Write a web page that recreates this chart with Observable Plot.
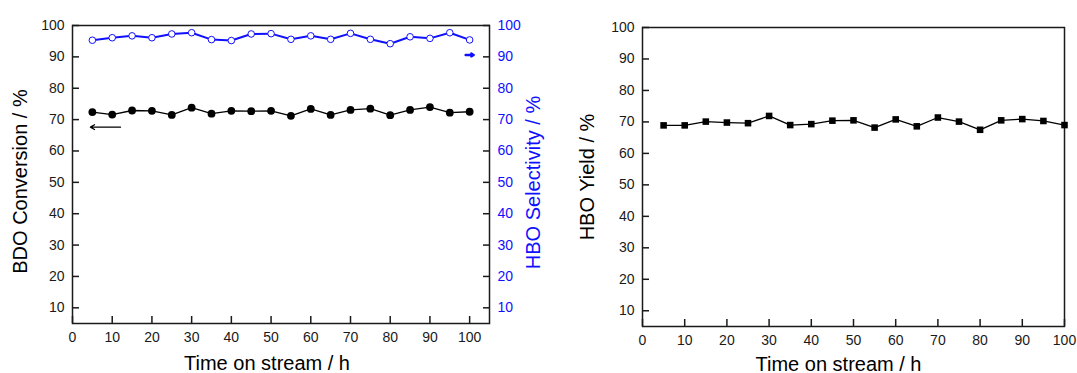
<!DOCTYPE html>
<html><head><meta charset="utf-8">
<script src="https://cdn.jsdelivr.net/npm/d3@7"></script>
<script src="https://cdn.jsdelivr.net/npm/@observablehq/plot@0.6"></script>
<style>
body{margin:0;background:#fff;}
#wrap{position:relative;width:1077px;height:373px;background:#fff;}
#left,#right{position:absolute;top:0;}
#left{left:0}
#right{left:550px}
</style></head><body><div id="wrap"><div id="left"></div><div id="right"></div></div>
<script>
// ---- data ----
const hours = [5,10,15,20,25,30,35,40,45,50,55,60,65,70,75,80,85,90,95,100];
const bdoConversion = [72.4,71.6,72.9,72.8,71.5,73.8,71.9,72.8,72.7,72.8,71.2,73.4,71.5,73.1,73.5,71.4,73.1,74.0,72.2,72.5];
const hboSelectivity = [95.3,96.1,96.7,96.1,97.3,97.7,95.5,95.2,97.3,97.4,95.6,96.7,95.6,97.5,95.6,94.2,96.4,95.9,97.7,95.4];
const hboYield = [68.9,68.9,70.1,69.8,69.6,71.9,69.0,69.3,70.4,70.5,68.2,70.8,68.6,71.4,70.1,67.5,70.5,70.9,70.3,69.0];
const yTicks = [10,20,30,40,50,60,70,80,90,100];
const xTicks = [0,10,20,30,40,50,60,70,80,90,100];
const xLabel = "Time on stream / h";
const leftYLabel = "BDO Conversion / %";
const rightYLabel = "HBO Selectivity / %";
const yieldLabel = "HBO Yield / %";
// axis-pointer arrows (data units)
const convArrow = [{x1: 12.1, y1: 67.6, x2: 4.5, y2: 67.6}];
const selArrow = [{x1: 99.0, y1: 90.6, x2: 101.0, y2: 90.6}];

const FONT = '"Liberation Sans", Arial, Helvetica, sans-serif';
const INK = "#1a1a1a";
const BLUE = "#1010ff";

const leftData = hours.map((h, i) => ({h, conv: bdoConversion[i], sel: hboSelectivity[i]}));
const rightData = hours.map((h, i) => ({h, yld: hboYield[i]}));

const left = Plot.plot({
  width: 550, height: 373,
  marginLeft: 72, marginRight: 61, marginTop: 25, marginBottom: 50,
  style: {fontFamily: FONT, fontSize: "14px", background: "transparent", overflow: "visible", color: INK},
  x: {domain: [0, 105]},
  y: {domain: [5, 100]},
  marks: [
    Plot.frame({stroke: INK, strokeWidth: 1.5}),
    Plot.line(leftData, {x: "h", y: "conv", stroke: "black", strokeWidth: 1.3}),
    Plot.dot(leftData, {x: "h", y: "conv", r: 3.9, fill: "black", stroke: "none"}),
    Plot.line(leftData, {x: "h", y: "sel", stroke: BLUE, strokeWidth: 2}),
    Plot.dot(leftData, {x: "h", y: "sel", r: 3.3, fill: "white", stroke: BLUE, strokeWidth: 1}),
    Plot.arrow(convArrow, {x1: "x1", y1: "y1", x2: "x2", y2: "y2", stroke: "black", strokeWidth: 1.2, headLength: 6}),
    Plot.arrow(selArrow, {x1: "x1", y1: "y1", x2: "x2", y2: "y2", stroke: BLUE, strokeWidth: 2.5, headLength: 5}),
    Plot.axisX(xTicks, {anchor: "bottom", tickSize: -7, tickPadding: 16, strokeWidth: 1.5, label: null, fontSize: 14}),
    Plot.axisY(yTicks, {anchor: "left", tickSize: -7, tickPadding: 15, strokeWidth: 1.5, label: null, fontSize: 14}),
    Plot.axisY(yTicks, {anchor: "right", tickSize: -7, tickPadding: 15, strokeWidth: 1.5, label: null, fontSize: 14, fill: BLUE}),
    Plot.text([xLabel], {frameAnchor: "bottom", textAnchor: "middle", dx: -14, dy: 46, lineAnchor: "bottom", fontSize: 20, fill: "black"}),
    Plot.text([leftYLabel], {frameAnchor: "left", textAnchor: "middle", dx: -52, dy: 7, rotate: -90, lineAnchor: "middle", fontSize: 20, fill: "black"}),
    Plot.text([rightYLabel], {frameAnchor: "right", textAnchor: "middle", dx: 44, dy: 8, rotate: -90, lineAnchor: "middle", fontSize: 20, fill: BLUE})
  ]
});
document.getElementById("left").append(left);

const right = Plot.plot({
  width: 527, height: 373,
  marginLeft: 92, marginRight: 13, marginTop: 27, marginBottom: 47,
  style: {fontFamily: FONT, fontSize: "14px", background: "transparent", overflow: "visible", color: INK},
  x: {domain: [0, 100]},
  y: {domain: [5, 100]},
  marks: [
    Plot.frame({stroke: INK, strokeWidth: 1.5}),
    Plot.line(rightData, {x: "h", y: "yld", stroke: "black", strokeWidth: 1.3}),
    Plot.dot(rightData, {x: "h", y: "yld", symbol: "square", r: 3.7, fill: "black", stroke: "none"}),
    Plot.axisX(xTicks, {anchor: "bottom", tickSize: -7, tickPadding: 16, strokeWidth: 1.5, label: null, fontSize: 14}),
    Plot.axisY(yTicks, {anchor: "left", tickSize: -7, tickPadding: 15, strokeWidth: 1.5, label: null, fontSize: 14}),
    Plot.text([xLabel], {frameAnchor: "bottom", textAnchor: "middle", dx: -15, dy: 44, lineAnchor: "bottom", fontSize: 20, fill: "black"}),
    Plot.text([yieldLabel], {frameAnchor: "left", textAnchor: "middle", dx: -55, rotate: -90, lineAnchor: "middle", fontSize: 20, fill: "black"})
  ]
});
document.getElementById("right").append(right);
</script>
</body></html>
